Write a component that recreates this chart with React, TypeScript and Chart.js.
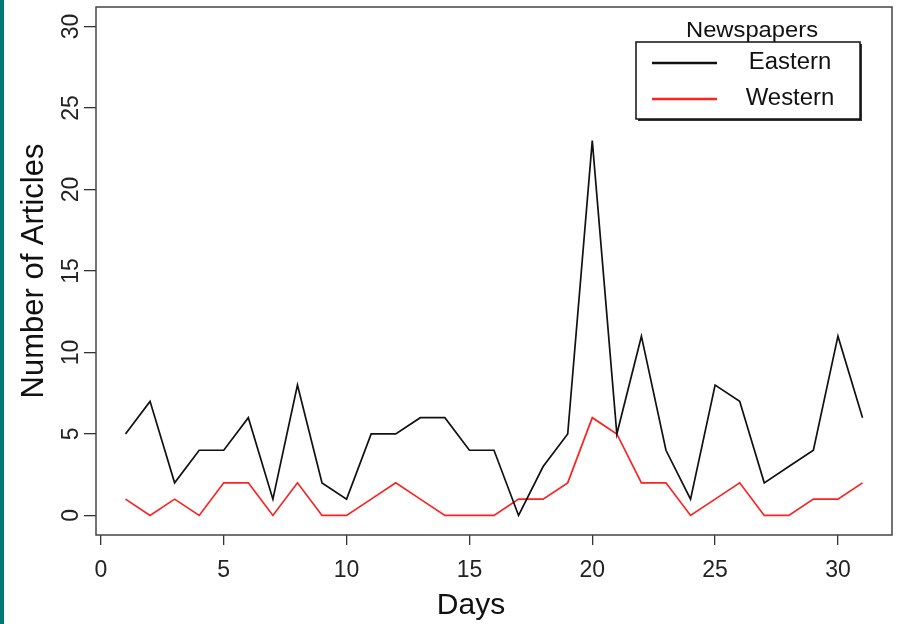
import React, { useEffect, useRef } from "react";
import { Chart, registerables } from "chart.js";

Chart.register(...registerables);

const days = [1, 2, 3, 4, 5, 6, 7, 8, 9, 10, 11, 12, 13, 14, 15, 16, 17, 18, 19, 20, 21, 22, 23, 24, 25, 26, 27, 28, 29, 30, 31];
const eastern = [5, 7, 2, 4, 4, 6, 1, 8, 2, 1, 5, 5, 6, 6, 4, 4, 0, 3, 5, 23, 5, 11, 4, 1, 8, 7, 2, 3, 4, 11, 6];
const western = [1, 0, 1, 0, 2, 2, 0, 2, 0, 0, 1, 2, 1, 0, 0, 0, 1, 1, 2, 6, 5, 2, 2, 0, 1, 2, 0, 0, 1, 1, 2];
const seriesNames = ["Eastern", "Western"];
const seriesColors = ["#111111", "#ff2020"];
const xTicks = [0, 5, 10, 15, 20, 25, 30];
const yTicks = [0, 5, 10, 15, 20, 25, 30];
const legendTitle = "Newspapers";
const xTitle = "Days";
const yTitle = "Number of Articles";

const FONT = "'Liberation Sans', Arial, Helvetica, sans-serif";

function stretchedText(ctx: any, text: string, x: number, y: number, sx: number) {
  ctx.save();
  ctx.translate(x, y);
  ctx.scale(sx, 1);
  ctx.fillText(text, 0, 0);
  ctx.restore();
}

const decorPlugin = {
  id: "decor",
  afterDraw(chart: any) {
    const ctx = chart.ctx;
    const ca = chart.chartArea;
    const ys = chart.scales.y;
    ctx.save();
    // plot box
    ctx.strokeStyle = "#444";
    ctx.lineWidth = 1.5;
    ctx.strokeRect(ca.left, ca.top, ca.right - ca.left, ca.bottom - ca.top);

    // y tick labels (rotated)
    ctx.fillStyle = "#222";
    ctx.font = `23px ${FONT}`;
    ctx.textAlign = "center";
    ctx.textBaseline = "middle";
    yTicks.forEach((v) => {
      const py = ys.getPixelForValue(v);
      ctx.save();
      ctx.translate(72, py);
      ctx.rotate(-Math.PI / 2);
      ctx.fillText(String(v), 0, 0);
      ctx.restore();
    });

    // axis titles
    ctx.fillStyle = "#111";
    ctx.font = `31px ${FONT}`;
    ctx.save();
    ctx.translate(34, (ca.top + ca.bottom) / 2);
    ctx.rotate(-Math.PI / 2);
    ctx.fillText(yTitle, 0, 0);
    ctx.restore();
    ctx.font = `30px ${FONT}`;
    ctx.fillText(xTitle, 471, 606);

    // legend
    const lx = 636, ly = 42, lw = 224, lh = 77;
    ctx.fillStyle = "#333";
    ctx.fillRect(lx + 2, ly + 2, lw, lh);
    ctx.fillStyle = "#fff";
    ctx.fillRect(lx, ly, lw, lh);
    ctx.strokeStyle = "#111";
    ctx.lineWidth = 1.5;
    ctx.strokeRect(lx, ly, lw, lh);
    ctx.fillStyle = "#111";
    ctx.font = `22px ${FONT}`;
    stretchedText(ctx, legendTitle, 752, 31, 1.08);
    const rows = [63, 99];
    seriesNames.forEach((name, i) => {
      ctx.strokeStyle = seriesColors[i];
      ctx.lineWidth = 2.5;
      ctx.beginPath();
      ctx.moveTo(652, rows[i]);
      ctx.lineTo(717, rows[i]);
      ctx.stroke();
      ctx.fillStyle = "#111";
      ctx.font = `23px ${FONT}`;
      stretchedText(ctx, name, 790, rows[i], 1.04);
    });
    ctx.restore();
  },
};

export default function App() {
  const ref = useRef<HTMLCanvasElement | null>(null);
  useEffect(() => {
    if (!ref.current) return;
    const chart = new Chart(ref.current, {
      type: "line",
      data: {
        datasets: [
          {
            label: seriesNames[0],
            data: days.map((d, i) => ({ x: d, y: eastern[i] })),
            borderColor: seriesColors[0],
            borderWidth: 1.7,
            pointRadius: 0,
            tension: 0,
          },
          {
            label: seriesNames[1],
            data: days.map((d, i) => ({ x: d, y: western[i] })),
            borderColor: seriesColors[1],
            borderWidth: 1.7,
            pointRadius: 0,
            tension: 0,
          },
        ],
      },
      options: {
        animation: false,
        responsive: false,
        events: [],
        layout: { padding: { top: 7, right: 5, left: 0, bottom: 0 } },
        plugins: { legend: { display: false }, tooltip: { enabled: false } },
        scales: {
          x: {
            type: "linear",
            min: -0.2,
            max: 32.2,
            afterBuildTicks: (s: any) => {
              s.ticks = xTicks.map((v) => ({ value: v }));
            },
            afterFit: (s: any) => {
              s.height = 89;
            },
            grid: {
              drawOnChartArea: false,
              drawTicks: true,
              tickLength: 10,
              color: "#333",
              lineWidth: 1.3,
            },
            border: { display: false },
            ticks: {
              font: { size: 23, family: FONT },
              color: "#222",
              padding: 12,
              maxRotation: 0,
              autoSkip: false,
            },
          },
          y: {
            type: "linear",
            min: -1.2,
            max: 31.2,
            afterBuildTicks: (s: any) => {
              s.ticks = yTicks.map((v) => ({ value: v }));
            },
            afterFit: (s: any) => {
              s.width = 96;
            },
            grid: {
              drawOnChartArea: false,
              drawTicks: true,
              tickLength: 12,
              color: "#333",
              lineWidth: 1.3,
            },
            border: { display: false },
            ticks: { display: false },
          },
        },
      },
      plugins: [decorPlugin],
    } as any);
    return () => chart.destroy();
  }, []);
  return (
    <div style={{ position: "fixed", left: 0, top: 0, width: 897, height: 624, background: "#fff" }}>
      <canvas ref={ref} width={897} height={624} style={{ display: "block" }} />
      <div style={{ position: "absolute", left: 0, top: 0, width: 4, height: 624, background: "#007873" }} />
    </div>
  );
}
